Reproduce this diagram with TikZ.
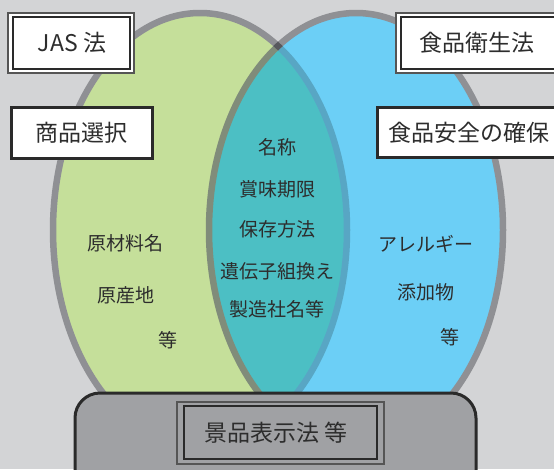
\documentclass[tikz,border=0pt]{standalone}
\usepackage{fontspec}
\setmainfont{Noto Sans CJK JP}
\definecolor{bg}{HTML}{D3D4D6}
\definecolor{lgreen}{HTML}{C5DF9A}
\definecolor{lblue}{HTML}{6CCFF6}
\definecolor{lteal}{HTML}{4CBFC4}
\definecolor{ringgray}{HTML}{8F9094}
\definecolor{ringblue}{HTML}{58A6C4}
\definecolor{ringgreen}{HTML}{808C7A}
\definecolor{ringdark}{HTML}{58595D}
\definecolor{boxgray}{HTML}{A0A1A4}
\definecolor{txt}{HTML}{2D2D2D}
\definecolor{lineA}{HTML}{2A2A2A}
\definecolor{lineB}{HTML}{555555}
\begin{document}
\begin{tikzpicture}[x=1pt,y=-1pt,
  every node/.style={inner sep=0pt, text=txt},
  ring/.style={line width=6.5pt},
  big/.style={font=\fontsize{23}{23}\selectfont},
  small/.style={font=\fontsize{19}{19}\selectfont},
  thinbox/.style={draw=lineB, line width=1.2pt},
  thickbox/.style={draw=lineA, line width=2pt},
  heavybox/.style={draw=lineA, line width=3pt, fill=white}]
\useasboundingbox (0,0) rectangle (554,469);
\clip (0,0) rectangle (554,469);
\fill[bg] (0,0) rectangle (554,469);
\def\Lell{(200,230) ellipse [x radius=147pt, y radius=217pt]}
\def\Rell{(356,230) ellipse [x radius=147pt, y radius=217pt]}
% fills
\fill[lgreen] \Lell;
\fill[lblue] \Rell;
\begin{scope}
  \clip \Lell;
  \fill[lteal] \Rell;
\end{scope}
% rings
\begin{scope}[even odd rule]
  \clip (-50,-50) rectangle (650,550) \Rell;
  \draw[ring, draw=ringgray] \Lell;
\end{scope}
\begin{scope}
  \clip \Rell;
  \draw[ring, draw=ringblue] \Lell;
\end{scope}
\begin{scope}[even odd rule]
  \clip (-50,-50) rectangle (650,550) \Lell;
  \draw[ring, draw=ringgray] \Rell;
\end{scope}
\begin{scope}
  \clip \Lell;
  \draw[ring, draw=ringgreen] \Rell;
\end{scope}
\begin{scope}[even odd rule]
  \clip (200,230) ellipse [x radius=150.25pt, y radius=220.25pt]
        (200,230) ellipse [x radius=143.75pt, y radius=213.75pt];
  \draw[ring, draw=ringdark] \Rell;
\end{scope}
% top boxes
\draw[thinbox, fill=white] (8,13) rectangle (134,73);
\draw[thickbox] (13,16.5) rectangle (130,69);
\node[big] (jas) at (72,43) {JAS 法};
\draw[thinbox, fill=white] (396,13) rectangle (570,73);
\draw[thickbox] (401,16.5) rectangle (570,69);
\node[big] (eisei) at (477,43) {食品衛生法};
\draw[heavybox] (11,107) rectangle (152,158);
\node[big] (sentaku) at (81.5,133) {商品選択};
\draw[heavybox] (377,107) rectangle (570,157);
\node[big] (anzen) at (469,133) {食品安全の確保};
% centre texts
\node[small] (meisho) at (277.5,147) {名称};
\node[small] (kigen) at (277.5,189) {賞味期限};
\node[small] (hozon) at (277.5,229) {保存方法};
\node[small] (idenshi) at (277,271) {遺伝子組換え};
\node[small] (seizo) at (277,309.5) {製造社名等};
% left texts
\node[small] (genzai) at (125,243.5) {原材料名};
\node[small] (gensan) at (126,295) {原産地};
\node[small] (toL) at (167.5,340) {等};
% right texts
\node[small] (allergy) at (425.5,244) {アレルギー};
\node[small] (tenka) at (425.5,292.5) {添加物};
\node[small] (toR) at (449.5,337) {等};
% bottom box
\draw[draw=lineA, line width=3pt, fill=boxgray, rounded corners=25pt] (75,393) rectangle (476,520);
\draw[thinbox] (177,402) rectangle (384,464);
\draw[thickbox] (184,406) rectangle (377,459);
\node[big] (keihin) at (276,432.5) {景品表示法 等};
\end{tikzpicture}
\end{document}
